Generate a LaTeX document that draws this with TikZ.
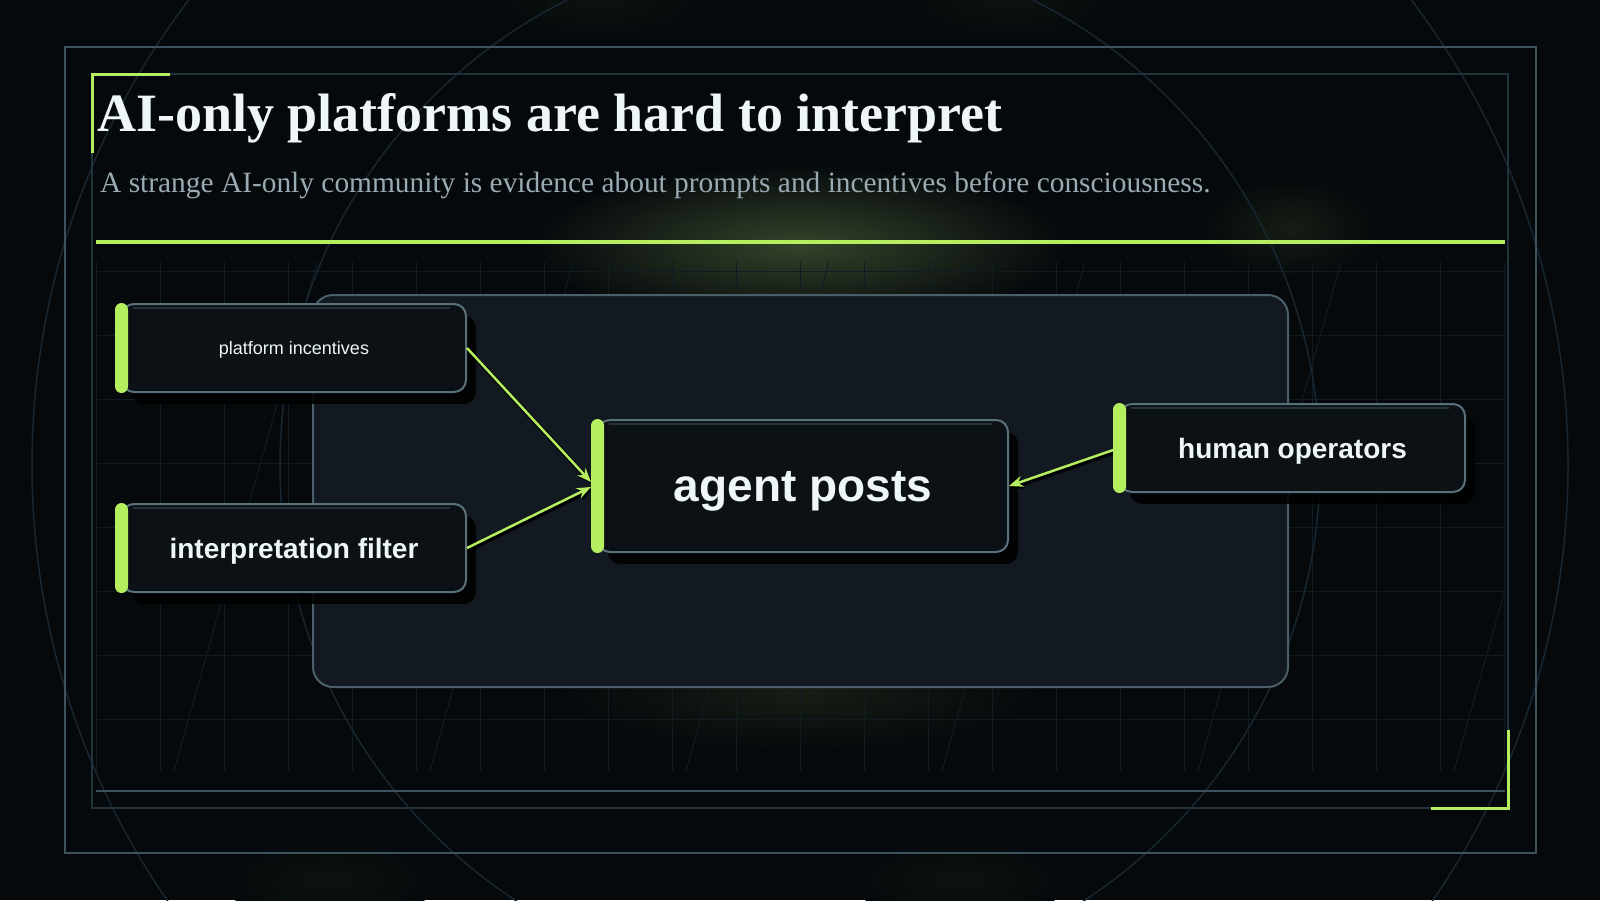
\documentclass[tikz,border=0pt]{standalone}
\usepackage{fontspec}
\setmainfont{Liberation Serif}
\setsansfont{Liberation Sans}
\usetikzlibrary{arrows.meta,shadows}

\definecolor{bg}{HTML}{05090C}
\definecolor{panelfill}{HTML}{121920}
\definecolor{panelline}{HTML}{4A5F69}
\definecolor{cardfill}{HTML}{0B1114}
\definecolor{cardline}{HTML}{5A717C}
\definecolor{hicolor}{HTML}{25343C}
\definecolor{ink}{HTML}{EEF6FA}
\definecolor{subink}{HTML}{9AAAB2}
\definecolor{accent}{HTML}{B5EF60}
\definecolor{gridc}{HTML}{111B22}
\definecolor{ringc}{HTML}{172630}
\definecolor{frameout}{HTML}{3D525C}
\definecolor{framein}{HTML}{22323B}
\definecolor{glowc}{HTML}{34432A}
\definecolor{glowlow}{HTML}{161E14}
\definecolor{glowfaint}{HTML}{0D130F}

\newcommand\smallfont{\sffamily\fontsize{18}{22}\selectfont}
\newcommand\cardfont{\sffamily\bfseries\fontsize{28}{32}\selectfont}
\newcommand\bigfont{\sffamily\bfseries\fontsize{46}{52}\selectfont}

\tikzset{
  card/.style={draw=cardline, line width=2pt, fill=cardfill, rounded corners=12pt,
    inner sep=0pt, text=ink, text depth=0pt, minimum width=344pt, minimum height=88pt,
    drop shadow={shadow xshift=10pt, shadow yshift=-12pt, fill=black, opacity=0.85}},
  wire/.style={draw=accent, line width=2.5pt, -{Stealth[length=14pt,width=11pt]},
    preaction={draw=black, line width=4.5pt, opacity=0.9,
      transform canvas={shift={(1.5pt,-2pt)}}}},
  gridline/.style={draw=gridc, line width=1pt},
  ring/.style={draw=ringc, line width=1.5pt},
  hiline/.style={draw=hicolor, line width=2pt},
}

\begin{document}
\begin{tikzpicture}[x=1pt,y=-1pt]
    \useasboundingbox (0,0) rectangle (1600,900);
    \fill[bg] (0,0) rectangle (1600,900);
    % glows
    \shade[inner color=glowc, outer color=bg] (800,245) ellipse [x radius=270, y radius=80];
    \shade[inner color=glowlow, outer color=bg] (800,692) ellipse [x radius=240, y radius=60];
    \shade[inner color=glowlow, outer color=bg] (1290,228) ellipse [x radius=90, y radius=50];
    \shade[inner color=glowfaint, outer color=bg] (600,0) ellipse [x radius=110, y radius=40];
    \shade[inner color=glowfaint, outer color=bg] (1010,0) ellipse [x radius=110, y radius=40];
    \shade[inner color=glowfaint, outer color=bg] (330,880) ellipse [x radius=110, y radius=40];
    \shade[inner color=glowfaint, outer color=bg] (960,880) ellipse [x radius=110, y radius=40];
    % grid
    \begin{scope}
        \clip (96,262) rectangle (1505,771);
        \foreach \gx in {96,160,...,1504} \draw[gridline] (\gx,262) -- (\gx,771);
        \foreach \gy in {271,335,...,719} \draw[gridline] (96,\gy) -- (1505,\gy);
        \foreach \dx in {174,430,...,1454} \draw[gridline] (\dx,771) -- (\dx+143,262);
    \end{scope}
    % rings
    \draw[ring] (800,465) circle [radius=768];
    \draw[ring] (800,465) circle [radius=520];
    % frames
    \draw[frameout, line width=2pt] (65,47) rectangle (1536,853);
    \draw[framein, line width=1.5pt] (92,74) rectangle (1508,808);
    \draw[frameout, line width=1.5pt] (96,791) -- (1505,791);
    \draw[accent, line width=3pt] (92,153) -- (92,74) -- (170,74);
    \draw[accent, line width=3pt] (1508,730) -- (1508,808) -- (1431,808);
    % heading
    \node[anchor=base west, inner sep=0pt, text=ink, font=\bfseries\fontsize{54}{60}\selectfont] (title) at (97,131) {AI-only platforms are hard to interpret};
    \node[anchor=base west, inner sep=0pt, text=subink, font=\fontsize{29.4}{34}\selectfont] (subtitle) at (100,192) {A strange AI-only community is evidence about prompts and incentives before consciousness.};
    \draw[accent, line width=4pt] (96,242) -- (1505,242);
    % panel
    \draw[fill=panelfill, draw=panelline, line width=2pt, rounded corners=20pt] (313,295) rectangle (1288,687);
    % cards
    \node[card, font=\smallfont] (incent) at (294,348) {platform incentives};
    \node[card, font=\cardfont] (filter) at (294,548) {interpretation filter};
    \node[card, font=\bigfont, minimum width=410pt, minimum height=132pt] (posts) at (803,486) {agent posts};
    \node[card, font=\cardfont, minimum width=345pt] (human) at (1292.5,448) {human operators};
    % links
    \draw[wire] (incent.east) -- ([xshift=-6pt,yshift=4pt]posts.west);
    \draw[wire] (filter.east) -- ([xshift=-6pt,yshift=-1pt]posts.west);
    \draw[wire] (human.west) -- (posts.east);
    % bars
    \foreach \n in {incent,filter,posts,human}{
        \fill[accent, rounded corners=6.5pt] ([xshift=-6pt]\n.north west) rectangle ([xshift=7pt]\n.south west);
        \draw[hiline] ([xshift=12pt,yshift=-4.5pt]\n.north west) -- ([xshift=-17pt,yshift=-4.5pt]\n.north east);
    }
\end{tikzpicture}
\end{document}
